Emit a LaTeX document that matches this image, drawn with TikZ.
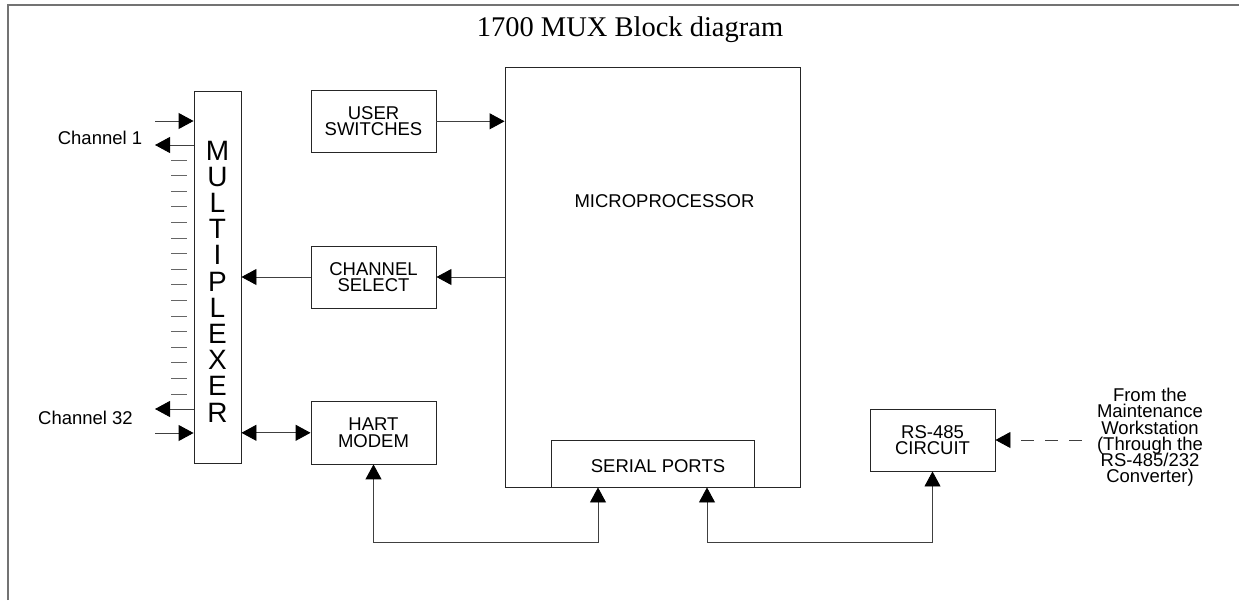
\documentclass[tikz,border=0pt]{standalone}
\usepackage{fontspec}
\setmainfont{Liberation Sans}
\newfontfamily\titlefont{Liberation Serif}
\usetikzlibrary{arrows.meta,calc}
\newcommand\tightls{\lineskiplimit=-40pt\relax}
\tikzset{
  blk/.style={draw=black!85, line width=0.9pt, rectangle, inner sep=0pt, align=center,
    font=\fontsize{18.5}{16.3}\selectfont\tightls},
  lbl/.style={inner sep=0pt, align=center, font=\fontsize{18.5}{16.3}\selectfont\tightls},
  conn/.style={draw=black!75, line width=0.9pt, -{Triangle[length=15pt,width=16pt,fill=black,color=black]}},
  both/.style={draw=black!75, line width=0.9pt, {Triangle[length=15pt,width=16pt,fill=black,color=black]}-{Triangle[length=15pt,width=16pt,fill=black,color=black]}},
  tick/.style={draw=black!60, line width=0.9pt},
}
\begin{document}
\begin{tikzpicture}[x=1pt,y=-1pt]
\useasboundingbox (0,0) rectangle (1239,600);
% frame
\draw[black!55, line width=1.6pt] (8,600) -- (8,4.7) -- (1239,4.7);
% title
\node[inner sep=0pt, anchor=base, font=\titlefont\fontsize{28.5}{30}\selectfont] (title) at (630,36) {1700 MUX Block diagram};
% blocks
\node[blk, minimum width=47pt, minimum height=372pt] (mux) at (217.5,277) {};
\node[inner sep=0pt, align=center, font=\fontsize{28}{26.2}\selectfont\tightls] (muxtxt) at (217.5,281.5) {M\\U\\L\\T\\I\\P\\L\\E\\X\\E\\R};
\node[blk, minimum width=125pt, minimum height=61.3pt] (us) at (373.5,121.3) {USER\\SWITCHES};
\node[blk, minimum width=125pt, minimum height=62pt] (cs) at (373.5,277) {CHANNEL\\SELECT};
\node[blk, minimum width=125pt, minimum height=62.3pt] (hart) at (373.5,432.8) {HART\\MODEM};
\node[blk, minimum width=295.7pt, minimum height=420pt] (micro) at (652.85,277) {};
\node[lbl] (microtxt) at (664.5,200.7) {MICROPROCESSOR};
\node[blk, minimum width=202.3pt, minimum height=46.3pt] (serial) at (652.85,463.85) {};
\node[lbl] (serialtxt) at (658,465.7) {SERIAL PORTS};
\node[blk, minimum width=125pt, minimum height=62pt] (rs) at (932.5,440) {RS-485\\CIRCUIT};
\node[lbl] (ws) at (1150,437.4) {From the\\Maintenance\\Workstation\\(Through the\\RS-485/232\\Converter)};
% channel labels
\node[lbl] (ch1) at (100,138) {Channel 1};
\node[lbl] (ch32) at (85.5,418) {Channel 32};
% channel arrows
\coordinate (c1in) at (155,121);
\coordinate (c1out) at (155,145);
\coordinate (c32out) at (155,409);
\coordinate (c32in) at (155,433);
\draw[conn] (c1in) -- (c1in -| mux.west);
\draw[conn] (c1out -| mux.west) -- (c1out);
\draw[conn] (c32out -| mux.west) -- (c32out);
\draw[conn] (c32in) -- (c32in -| mux.west);
% ticks
\foreach \i in {0,...,15} {
  \draw[tick] (171,160+\i*15.6) -- (187,160+\i*15.6);
}
% connectors
\draw[conn] (us.east) -- (us.east -| micro.west);
\draw[conn] (cs.east -| micro.west) -- (cs.east);
\draw[conn] (cs.west) -- (cs.west -| mux.east);
\draw[both] (mux.east |- hart.west) -- (hart.west);
\draw[both] (hart.south) -- ++(0,77.7) -| ([xshift=-54.85pt]serial.south);
\draw[both] ([xshift=54.15pt]serial.south) -- ++(0,54.7) -| (rs.south);
\coordinate (wsend) at (1081.7,440);
\draw[conn, dash pattern=on 13pt off 11pt] (wsend) -- (wsend -| rs.east);
\end{tikzpicture}
\end{document}
